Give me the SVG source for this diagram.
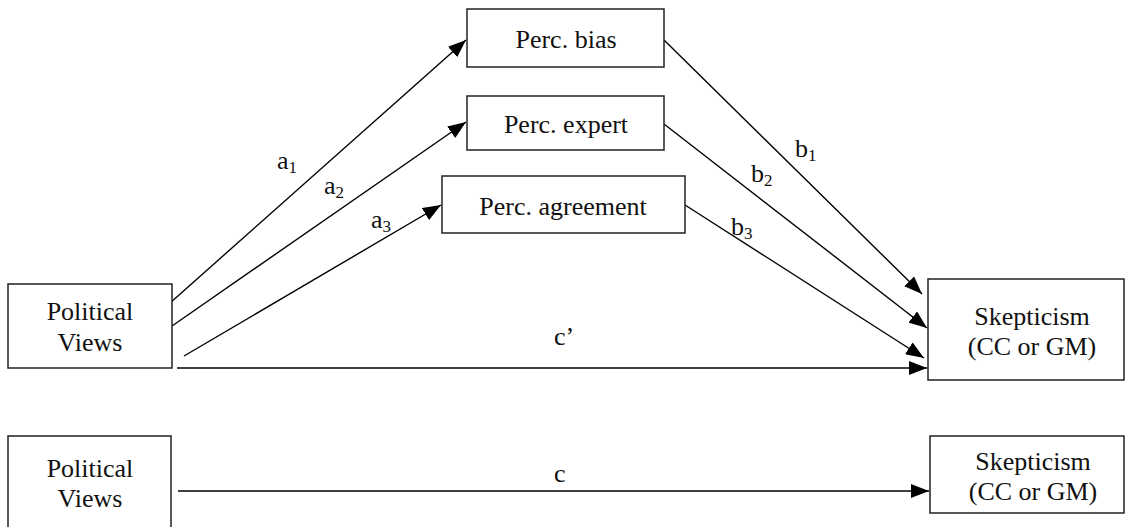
<svg xmlns="http://www.w3.org/2000/svg" width="1126" height="527" viewBox="0 0 1126 527">
<style>
.box{fill:#fff;stroke:#222;stroke-width:1.5}
.t{font-family:"Liberation Serif","Times New Roman",serif;font-size:26px;fill:#111;text-anchor:middle}
.l{font-family:"Liberation Serif","Times New Roman",serif;font-size:26px;fill:#111}
.s{font-size:17px}
.ln{stroke:#000;stroke-width:1.4;fill:none;marker-end:url(#ah)}
</style>
<defs>
<marker id="ah" markerUnits="userSpaceOnUse" markerWidth="19" markerHeight="14" refX="18" refY="7" orient="auto">
<path d="M0,0 L18,7 L0,14 z" fill="#000"/>
</marker>
</defs>
<rect width="1126" height="527" fill="#fff"/>
<g id="connectors">
<line class="ln" x1="170" y1="303" x2="466" y2="40"/>
<line class="ln" x1="172" y1="326" x2="466" y2="122"/>
<line class="ln" x1="184" y1="356" x2="441" y2="205"/>
<line class="ln" x1="177" y1="368" x2="927" y2="368"/>
<line class="ln" x1="664" y1="40" x2="922" y2="294"/>
<line class="ln" x1="664" y1="124" x2="927" y2="328"/>
<line class="ln" x1="685" y1="205" x2="924" y2="358"/>
<line class="ln" x1="178" y1="491" x2="929" y2="491"/>
<text class="l" x="277" y="169">a<tspan class="s" dy="4">1</tspan></text>
<text class="l" x="324" y="194">a<tspan class="s" dy="4">2</tspan></text>
<text class="l" x="371" y="228">a<tspan class="s" dy="4">3</tspan></text>
<text class="l" x="795" y="157">b<tspan class="s" dy="4">1</tspan></text>
<text class="l" x="751" y="182">b<tspan class="s" dy="4">2</tspan></text>
<text class="l" x="731" y="235">b<tspan class="s" dy="4">3</tspan></text>
<text class="l" x="554" y="345">c’</text>
<text class="l" x="554" y="482">c</text>
</g>
<g id="pv1">
<rect class="box" x="8" y="284" width="164" height="84"/>
<text class="t" x="90" y="320">Political</text>
<text class="t" x="90" y="351">Views</text>
</g>
<g id="sk1">
<rect class="box" x="928" y="279" width="196" height="101"/>
<text class="t" x="1032" y="325">Skepticism</text>
<text class="t" x="1032" y="355">(CC or GM)</text>
</g>
<g id="bias">
<rect class="box" x="467" y="9" width="197" height="58"/>
<text class="t" x="566" y="48">Perc. bias</text>
</g>
<g id="expert">
<rect class="box" x="467" y="96" width="197" height="54"/>
<text class="t" x="566" y="133">Perc. expert</text>
</g>
<g id="agree">
<rect class="box" x="442" y="176" width="243" height="57"/>
<text class="t" x="563" y="215">Perc. agreement</text>
</g>
<g id="pv2">
<rect class="box" x="8" y="436" width="163" height="95"/>
<text class="t" x="90" y="477">Political</text>
<text class="t" x="90" y="507">Views</text>
</g>
<g id="sk2">
<rect class="box" x="930" y="436" width="194" height="77"/>
<text class="t" x="1033" y="470">Skepticism</text>
<text class="t" x="1033" y="500">(CC or GM)</text>
</g>
</svg>
